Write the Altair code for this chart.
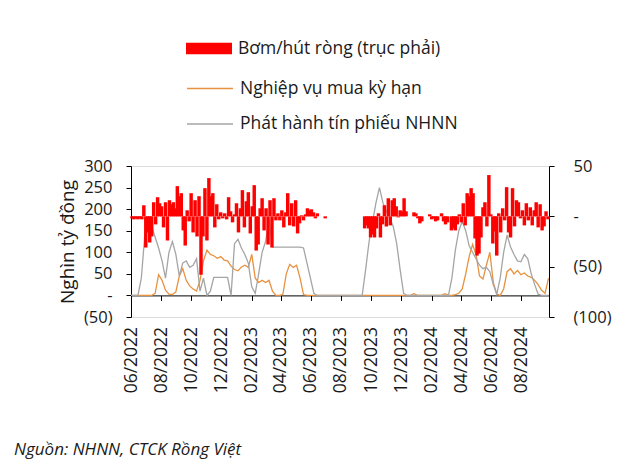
import altair as alt
import pandas as pd

# ---------------- data ----------------
START = "2022-06-01"

LBL_BAR = "Bơm/hút ròng (trục phải)"
LBL_REPO = "Nghiệp vụ mua kỳ hạn"
LBL_BILLS = "Phát hành tín phiếu NHNN"

# Net injection / withdrawal (right axis), one value every 4 days; None = no data
net_injection = [
    -2, -3, -2, -3, -2, -3,
    11, -31, -16, -26, -20,
    14, -8, 19, 13, 10,
    -11, 14, -24, 16, 12,
    14, 8, 30, 20, 23,
    -14, -29, 6, -5, 23,
    -16, 16, -20, 20, -58,
    -20, 28, -24, 38, 20,
    23, -11, 12, -3, 4,
    -2, 3, -3, 19, 5,
    -6, 2, 13, -16, 8,
    26, -11, 15, 24, -17,
    10, 31, -34, -28, 8,
    18, -14, 8, -28, 16,
    -31, 18, -4, 3, -4,
    6, -11, 4, 23, -9,
    13, -10, 16, -17, -7,
    1, -4, 2, 8, 6,
    7, 4, -2, 3, None,
    None, None, -2, None, None,
    None, None, None, None, None,
    None, None, None, None, None,
    None, None, None, None, None,
    None, None,
    -12, -9, -12, -21, -18,
    -21, -12, 3, -21, -8,
    11, -10, 18, -9, 16,
    18, 10, -1, 6, 5,
    18, 5, None, None, None,
    4, 3, -2, -7, -5,
    None, None, None,
    2, -3, -2, -5, -4,
    None,
    3, -5, -8, -6,
    None,
    -14, -12, -14, -8, 2,
    -6, 13, -9, 23, 20,
    28, 23, -22, -39, -37,
    -21, 9, 14, -10, 41,
    2, -27, -15, -39, 3,
    -16, 8, -4, 29, -16,
    -21, 28, -10, 16, 14,
    -2, 6, -9, 13, -4,
    9, -9, 6, 14, -11,
    12, -14, -10, 5, -3,
]

# Weekly series (left axis)
repo = [
    0, 0, 0, 0, 0, 0, 0,
    5, 48, 35, 12, 3, 2, 8, 45, 62, 35, 22, 15, 10, 35,
    80, 105, 95, 92, 86, 90, 82, 80, 68, 60, 57, 66, 70, 65,
    95, 40, 30, 35, 30, 35, 10, 0, 0, 2, 50, 72, 65, 70, 40, 2,
    0, 0, 0, 0, 0, 0, 0, 0, 0, 0, 0, 0, 0, 0, 0, 0,
    0, 0, 0, 0, 0, 0, 0, 0, 0, 0, 0, 0, 0, 0, 0,
    4,
    0, 0, 0, 0, 0, 0, 0, 0,
    4,
    0, 0,
    2, 5, 15, 50, 90, 118, 95, 45, 38, 70, 100, 30, 3, 0,
    15, 55, 62, 50, 58, 48, 52, 45, 42, 35, 25, 12, 5, 40,
]

bills = [
    0, 0, 0, 40, 140, 178, 160, 135, 110, 80, 40,
    100, 125, 95, 45, 75, 80, 65, 70, 85, 10, 40, 0, 10,
    42, 42, 42, 42, 42, 0,
    120, 130, 110, 95, 75, 20, 5, 50, 100, 125, 175,
    112, 112, 112, 112, 112, 112, 112, 112, 112, 110, 75, 40, 5,
    0, 0, 0, 0, 0, 0, 0, 0, 0, 0, 0, 0, 0, 0,
    60, 125, 170, 215, 250, 215, 195, 180, 160, 120, 60, 5,
    0, 0, 0, 0, 0, 0, 0, 0, 0, 0, 0, 0, 0,
    40, 105, 150, 172, 150, 115, 100, 85, 70, 62, 65, 55, 25, 3,
    40, 100, 140, 112, 95, 80, 78, 95, 85, 50, 25, 3, 0, 0, 0,
]

tick_months = ["2022-06", "2022-08", "2022-10", "2022-12", "2023-02", "2023-04",
               "2023-06", "2023-08", "2023-10", "2023-12", "2024-02", "2024-04",
               "2024-06", "2024-08"]
left_ticks = [-50, 0, 50, 100, 150, 200, 250, 300]
right_ticks = [-100, -50, 0, 50]

# ---------------- tables ----------------
red_dates = pd.date_range(START, periods=len(net_injection), freq="4D")
# each bar is drawn a little wider than its 4-day slot so neighbouring bars
# merge into the dense envelope the original (daily) chart shows
bar_df = pd.DataFrame({
    "start": red_dates - pd.Timedelta(days=1, hours=12),
    "end": red_dates + pd.Timedelta(days=5, hours=12),
    "value": pd.array(net_injection, dtype="Float64"),
    "s": LBL_BAR,
}).dropna()
bar_df["value"] = bar_df["value"].astype(float)

line_df = pd.concat([
    pd.DataFrame({"date": pd.date_range(START, periods=len(repo), freq="7D"),
                  "value": repo, "series": LBL_REPO}),
    pd.DataFrame({"date": pd.date_range(START, periods=len(bills), freq="7D"),
                  "value": bills, "series": LBL_BILLS}),
])

# ---------------- styling ----------------
FONT = "Open Sans"
TXT = "#1a1a1a"
ORANGE = "#E8913F"
GRAY = "#A5A5A5"
RED = "#FF0000"

x_scale = alt.Scale(domain=[alt.DateTime(year=2022, month=6, date=1),
                            alt.DateTime(year=2024, month=9, date=26)])
tick_vals = [alt.DateTime(year=int(m[:4]), month=int(m[5:]), date=1) for m in tick_months]

x_axis = alt.Axis(values=tick_vals, format="%m/%Y", labelAngle=270, labelAlign="right",
                  labelBaseline="middle", offset=-21.6, tickSize=5, labelPadding=26,
                  labelFlush=False, labelOverlap=False, labelSeparation=0, grid=False,
                  title=None, domainColor="#000000", tickColor="#000000",
                  labelFontSize=17.5, labelColor=TXT, labelFont=FONT)

NB = "\u00a0"
left_axis = alt.Axis(
    orient="left", values=left_ticks,
    labelExpr=("datum.value < 0 ? '(' + format(-datum.value, 'd') + ')' : "
               f"(datum.value == 0 ? '-{NB}{NB}{NB}' : format(datum.value, 'd') + '{NB}')"),
    title="Nghìn tỷ đồng", titleFontSize=19, titleFontWeight="normal", titleColor=TXT,
    titleFont=FONT, titlePadding=6, tickSize=5, labelPadding=14, grid=False,
    labelOverlap=False, domainColor="#000000", tickColor="#000000", labelFontSize=16.5,
    labelColor=TXT, labelFont=FONT)

right_axis = alt.Axis(
    orient="right", values=right_ticks,
    labelExpr=("datum.value < 0 ? '(' + format(-datum.value, 'd') + ')' : "
               "(datum.value == 0 ? '-' : format(datum.value, 'd'))"),
    title=None, tickSize=5, labelPadding=19, grid=False, labelOverlap=False,
    domainColor="#000000", tickColor="#000000", labelFontSize=16.5, labelColor=TXT,
    labelFont=FONT)

bar_legend = alt.Legend(title=None, orient="none", legendX=66.5, legendY=-129,
                        symbolType="M-2,-0.5H2V0.5H-2Z", symbolSize=529,
                        symbolStrokeWidth=0, labelOffset=17.5, padding=0, labelLimit=0,
                        labelFontSize=17.5, labelFont=FONT, labelColor=TXT)
line_legend = alt.Legend(title=None, orient="none", legendX=66.5, legendY=-90,
                         symbolType="M-2,0H2", symbolSize=529, symbolStrokeWidth=1.5,
                         labelOffset=17.5, padding=0, rowPadding=14.5, labelLimit=0,
                         labelFontSize=17.5, labelFont=FONT, labelColor=TXT)

lines = alt.Chart(line_df).mark_line(strokeWidth=1.3).encode(
    x=alt.X("date:T", scale=x_scale, axis=x_axis),
    y=alt.Y("value:Q", scale=alt.Scale(domain=[-50, 300], nice=False, zero=False),
            axis=left_axis),
    stroke=alt.Stroke("series:N",
                      scale=alt.Scale(domain=[LBL_REPO, LBL_BILLS], range=[ORANGE, GRAY]),
                      legend=line_legend),
    order=alt.Order("date:T"),
)

bars = alt.Chart(bar_df).mark_bar(strokeWidth=0).encode(
    x=alt.X("start:T", scale=x_scale, axis=x_axis),
    x2="end:T",
    y=alt.Y("value:Q", scale=alt.Scale(domain=[-100, 50], nice=False, zero=False),
            axis=right_axis, stack=None),
    y2=alt.datum(0),
    fill=alt.Fill("s:N", scale=alt.Scale(domain=[LBL_BAR], range=[RED]), legend=bar_legend),
)

chart = alt.layer(lines, bars).resolve_scale(y="independent").properties(
    width=418, height=151,
    padding={"left": 131, "top": 166, "right": 87, "bottom": 152},
    autosize=alt.AutoSizeParams(type="none"),
    title=alt.TitleParams("Nguồn: NHNN, CTCK Rồng Việt", orient="bottom", anchor="start",
                          frame="group", dx=-117, offset=49, fontStyle="italic",
                          fontWeight="normal", fontSize=17, color=TXT, font=FONT),
).configure_view(stroke=None).configure(background="white", font=FONT)

chart.save("out.html", embed_options={"renderer": "svg", "actions": False})
